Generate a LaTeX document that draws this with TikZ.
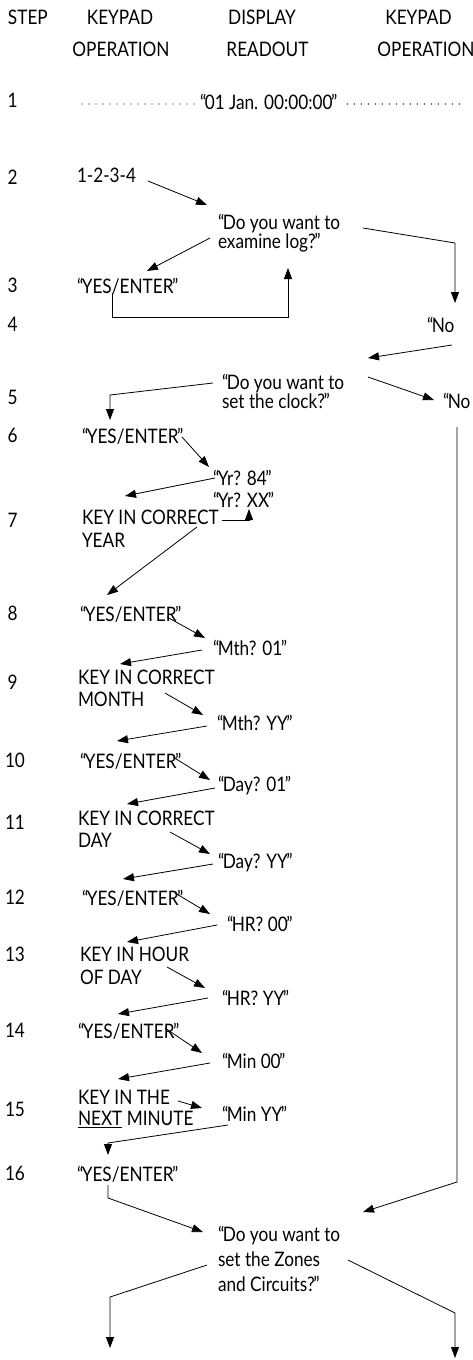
\documentclass[tikz,border=0pt]{standalone}
\usepackage{fontspec}
\setmainfont{Lato}[FakeStretch=0.86]
\usetikzlibrary{arrows.meta}
\newcommand{\oq}{“\kern-1.5pt}
\newcommand{\cq}{\kern-1.5pt”}
\begin{document}
\begin{tikzpicture}[x=1pt,y=-1pt,
  every node/.style={inner sep=0pt, outer sep=0pt},
  txt/.style={anchor=north west, align=left, font=\fontsize{20}{21}\selectfont},
  hdr/.style={anchor=north, font=\fontsize{20}{21}\selectfont},
  num/.style={anchor=north, font=\fontsize{20}{21}\selectfont},
  con/.style={line width=0.8pt},
  arr/.style={con, -{Triangle[length=11pt,width=8pt]}},
  dotline/.style={line width=1.3pt, line cap=round, dash pattern=on 0pt off 7pt}]
\fill[white] (0,0) rectangle (473,1360);
\useasboundingbox (0,0) rectangle (473,1360);
% header
\node[txt] (hstep) at (8,10) {STEP};
\node[hdr] (hk1) at (120,10) {KEYPAD};
\node[hdr] (hd) at (262,10) {DISPLAY};
\node[hdr] (hk2) at (418.5,10) {KEYPAD};
\node[hdr] (ho1) at (121,42) {OPERATION};
\node[hdr] (hr) at (267.5,42) {READOUT};
\node[hdr] (ho2) at (426,42) {OPERATION};
% step numbers
\node[num] (s1) at (12.5,93) {1};
\node[num] (s2) at (12.5,170) {2};
\node[num] (s3) at (12.5,278) {3};
\node[num] (s4) at (12.5,317) {4};
\node[num] (s5) at (12.5,390) {5};
\node[num] (s6) at (12.5,428) {6};
\node[num] (s7) at (12.5,513) {7};
\node[num] (s8) at (12.5,606) {8};
\node[num] (s9) at (12.5,675) {9};
\node[num] (s10) at (15,753) {10};
\node[num] (s11) at (15,815) {11};
\node[num] (s12) at (15,890) {12};
\node[num] (s13) at (15,947) {13};
\node[num] (s14) at (15,1023) {14};
\node[num] (s15) at (15,1102) {15};
\node[num] (s16) at (15,1166) {16};
% texts
\node[txt] (t1) at (200,94.5) {\oq 01 Jan. 00:00:00\cq};
\node[txt] (t2) at (77,168.5) {1-2-3-4};
\node[txt] (q1) at (218,214.5) {\oq Do you want to\\[-2.7pt]examine log?\cq};
\node[txt] (y3) at (77,278.5) {\oq YES/ENTER\cq};
\node[txt] (no4) at (427,317.5) {\oq No};
\node[txt] (q2) at (222,374.5) {\oq Do you want to\\[-2pt]set the clock?\cq};
\node[txt] (no5) at (443,393.5) {\oq No};
\node[txt] (y6) at (82,428.5) {\oq YES/ENTER\cq};
\node[txt] (yr84) at (213,470.5) {\oq Yr? 84\cq};
\node[txt] (yrxx) at (213,492.5) {\oq Yr? XX\cq};
\node[txt] (k7) at (82,510.5) {KEY IN CORRECT\\[2pt]YEAR};
\node[txt] (y8) at (80,606.5) {\oq YES/ENTER\cq};
\node[txt] (m01) at (213,640.5) {\oq Mth? 01\cq};
\node[txt] (k9) at (78,670.5) {KEY IN CORRECT\\[1pt]MONTH};
\node[txt] (myy) at (217,715.5) {\oq Mth? YY\cq};
\node[txt] (y10) at (80,753.5) {\oq YES/ENTER\cq};
\node[txt] (d01) at (218,776.5) {\oq Day? 01\cq};
\node[txt] (k11) at (78,810.5) {KEY IN CORRECT\\[1pt]DAY};
\node[txt] (dyy) at (218,853.5) {\oq Day? YY\cq};
\node[txt] (y12) at (82,890.5) {\oq YES/ENTER\cq};
\node[txt] (h00) at (227,916.5) {\oq HR? 00\cq};
\node[txt] (k13) at (80,946.5) {KEY IN HOUR\\[2pt]OF DAY};
\node[txt] (hyy) at (222,990.5) {\oq HR? YY\cq};
\node[txt] (y14) at (78,1023.5) {\oq YES/ENTER\cq};
\node[txt] (min00) at (222,1053.5) {\oq Min 00\cq};
\node[txt] (k15) at (78,1090.5) {KEY IN THE\\[0pt]\underline{NEXT} MINUTE};
\node[txt] (minyy) at (222,1106.5) {\oq Min YY\cq};
\node[txt] (y16) at (77,1166.5) {\oq YES/ENTER\cq};
\node[txt] (q3) at (218,1226.5) {\oq Do you want to\\[4pt]set the Zones\\[4pt]and Circuits?\cq};
\coordinate (dotL) at (82,104);
\coordinate (dotR) at (463,104);
\coordinate (endL) at (110,1348);
\coordinate (endR) at (455,1358);
% dotted leaders
\draw[dotline] (dotL) -- ([shift={(-5,9.5)}]t1.north west);
\draw[dotline] ([shift={(10,9.5)}]t1.north east) -- (dotR);
% connectors
\draw[arr] ([shift={(148-77,181-168.5)}]t2.north west) -- ([shift={(207-218,205-214.5)}]q1.north west);
\draw[arr] ([shift={(210-218,238-214.5)}]q1.north west) -- ([shift={(147-77,271-278.5)}]y3.north west);
\draw[arr] ([shift={(363-218,228-214.5)}]q1.north west) -- ++(92,15) -- ([shift={(455-427,303-317.5)}]no4.north west);
\draw[arr] ([shift={(112-77,293-278.5)}]y3.north west) -- ++(0,24) -| ([shift={(288-218,268-214.5)}]q1.north west);
\draw[arr] ([shift={(452-427,345-317.5)}]no4.north west) -- ([shift={(368-222,358-374.5)}]q2.north west);
\draw[arr] ([shift={(213-222,383-374.5)}]q2.north west) -- ++(-103,12) -- ([shift={(110-82,420-428.5)}]y6.north west);
\draw[arr] ([shift={(368-222,377-374.5)}]q2.north west) -- ([shift={(-9,400-393.5)}]no5.north west);
\draw[arr] ([shift={(14,427-393.5)}]no5.north west) -- ++(0,755) -- ([shift={(363-218,1212-1226.5)}]q3.north west);
\draw[arr] ([shift={(182-82,437-428.5)}]y6.north west) -- ([shift={(209-213,467-470.5)}]yr84.north west);
\draw[arr] ([shift={(215-213,478-470.5)}]yr84.north west) -- ([shift={(125-82,496-510.5)}]k7.north west);
\draw[arr] ([shift={(222-82,520-510.5)}]k7.north west) -| ([shift={(249-213,509-492.5)}]yrxx.north west);
\draw[arr] ([shift={(197-82,527-510.5)}]k7.north west) -- ([shift={(107-80,595-606.5)}]y8.north west);
\draw[arr] ([shift={(167-80,617-606.5)}]y8.north west) -- ([shift={(205-213,638-640.5)}]m01.north west);
\draw[arr] ([shift={(202-213,650-640.5)}]m01.north west) -- ([shift={(120-78,664-670.5)}]k9.north west);
\draw[arr] ([shift={(165-78,693-670.5)}]k9.north west) -- ([shift={(203-217,715-715.5)}]myy.north west);
\draw[arr] ([shift={(207-217,726-715.5)}]myy.north west) -- ([shift={(117-80,741-753.5)}]y10.north west);
\draw[arr] ([shift={(173-80,757-753.5)}]y10.north west) -- ([shift={(210-218,780-776.5)}]d01.north west);
\draw[arr] ([shift={(215-218,788-776.5)}]d01.north west) -- ([shift={(127-78,804-810.5)}]k11.north west);
\draw[arr] ([shift={(170-78,832-810.5)}]k11.north west) -- ([shift={(210-218,854-853.5)}]dyy.north west);
\draw[arr] ([shift={(213-218,864-853.5)}]dyy.north west) -- ([shift={(123-82,879-890.5)}]y12.north west);
\draw[arr] ([shift={(175-82,893-890.5)}]y12.north west) -- ([shift={(210-227,914-916.5)}]h00.north west);
\draw[arr] ([shift={(217-227,925-916.5)}]h00.north west) -- ([shift={(127-80,942-946.5)}]k13.north west);
\draw[arr] ([shift={(167-80,967-946.5)}]k13.north west) -- ([shift={(205-222,988-990.5)}]hyy.north west);
\draw[arr] ([shift={(208-222,998-990.5)}]hyy.north west) -- ([shift={(118-78,1014-1023.5)}]y14.north west);
\draw[arr] ([shift={(165-78,1028-1023.5)}]y14.north west) -- ([shift={(202-222,1053-1053.5)}]min00.north west);
\draw[arr] ([shift={(210-222,1063-1053.5)}]min00.north west) -- ([shift={(118-78,1079-1090.5)}]k15.north west);
\draw[arr] ([shift={(178-78,1101-1090.5)}]k15.north west) -- ([shift={(202-222,1108-1106.5)}]minyy.north west);
\draw[arr] ([shift={(228-222,1125-1106.5)}]minyy.north west) -- ++(-120,18) -- ([shift={(108-77,1155-1166.5)}]y16.north west);
\draw[arr] ([shift={(108-77,1185-1166.5)}]y16.north west) -- ++(0,13) -- ([shift={(203-218,1232-1226.5)}]q3.north west);
\draw[arr] ([shift={(207-218,1265-1226.5)}]q3.north west) -- ++(-97,32) -- (endL);
\draw[arr] ([shift={(348-218,1260-1226.5)}]q3.north west) -- ++(107,53) -- (endR);
\end{tikzpicture}
\end{document}
